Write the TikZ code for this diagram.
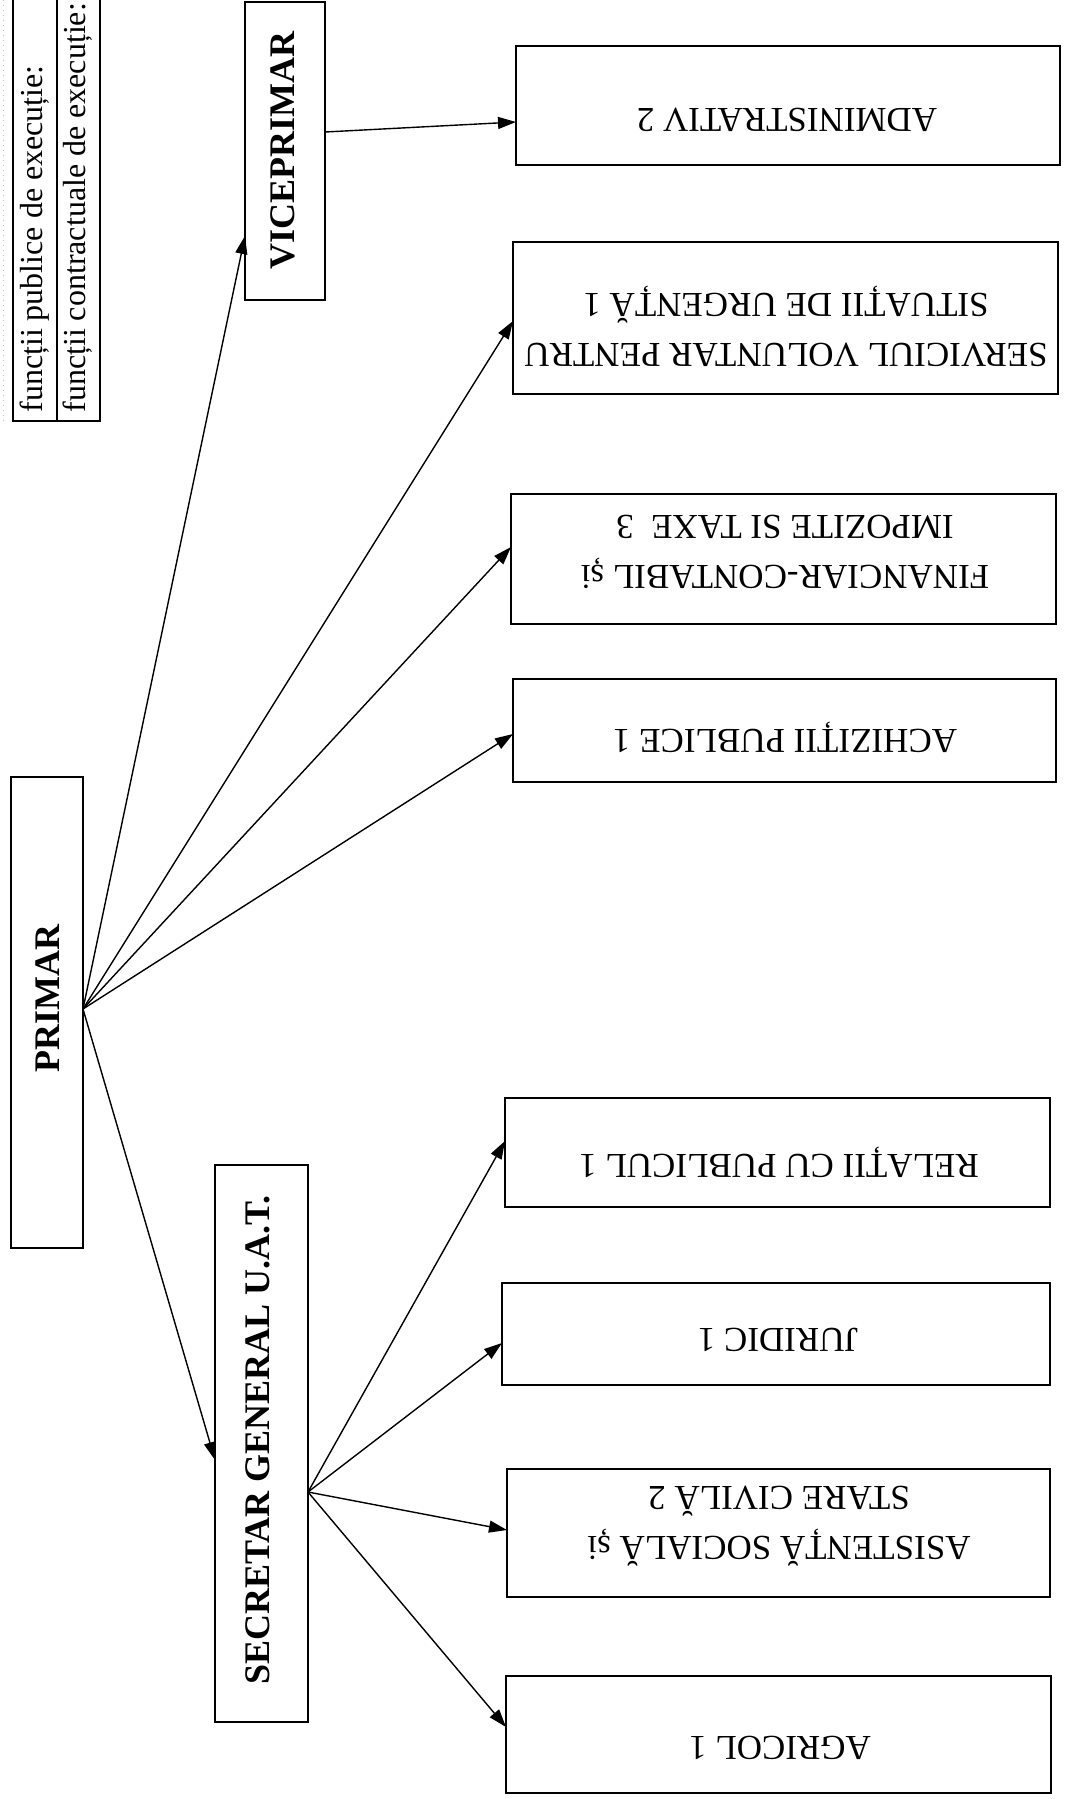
\documentclass[tikz,border=0pt]{standalone}
\usepackage{fontspec}
\setmainfont{Liberation Serif}
\usetikzlibrary{arrows.meta,fit}
\begin{document}
\begin{tikzpicture}[x=0.5pt,y=-0.5pt,
  box/.style={draw, line width=1.2pt, inner sep=0pt, outer sep=0pt},
  lbl/.style={font=\fontsize{17.5}{25}\selectfont, align=center, inner sep=0pt, rotate=180},
  blbl/.style={font=\fontsize{18}{22}\selectfont\bfseries, inner sep=0pt, rotate=90},
  arr/.style={line width=0.7pt, -{Triangle[length=9pt,width=6pt]}},
  tline/.style={line width=0.6pt},
  ttxt/.style={font=\fontsize{16}{18}\selectfont, inner sep=0pt, rotate=90, anchor=west}
]
\fill[white] (0,0) rectangle (1068,1799);
\useasboundingbox (0,0) rectangle (1068,1799);

% table (cut off at top)
\draw[tline] (13,0) -- (13,421) -- (100,421) -- (100,0);
\draw[tline] (57,0) -- (57,421);
\draw[gray!50, dotted, line width=0.5pt] (3,0) -- (3,421);
\node[ttxt] (t1) at (35,413) {funcții publice de execuție:};
\node[ttxt] (t2) at (78,413) {funcții contractuale de execuție:};

% boxes
\node[box, fit={(245,2) (325,300)}] (vice) {};
\node[box, fit={(516,46) (1060,165)}] (admin) {};
\node[box, fit={(513,242) (1058,394)}] (serv) {};
\node[box, fit={(511,494) (1056,624)}] (fin) {};
\node[box, fit={(513,679) (1056,782)}] (ach) {};
\node[box, fit={(11,777) (83,1248)}] (primar) {};
\node[box, fit={(215,1165) (308,1722)}] (sec) {};
\node[box, fit={(505,1098) (1050,1207)}] (rel) {};
\node[box, fit={(502,1283) (1050,1385)}] (jur) {};
\node[box, fit={(507,1469) (1050,1597)}] (asist) {};
\node[box, fit={(506,1676) (1051,1793)}] (agr) {};

% texts
\node[blbl] (viceT) at (283,150) {VICEPRIMAR};
\node[blbl] (primarT) at (48,998) {PRIMAR};
\node[blbl] (secT) at (258,1440) {SECRETAR GENERAL U.A.T.};
\node[lbl] (adminT) at (787,120) {ADMINISTRATIV 2};
\node[lbl] (servT) at (786,326) {SERVICIUL VOLUNTAR PENTRU\\SITUAȚII DE URGENȚĂ 1};
\node[lbl] (finT) at (785,552) {FINANCIAR-CONTABIL și\\IMPOZITE SI TAXE~~3};
\node[lbl] (achT) at (785,737) {ACHIZIȚII PUBLICE 1};
\node[lbl] (relT) at (779,1162) {RELAȚII CU PUBLICUL 1};
\node[lbl] (jurT) at (778,1340) {JURIDIC 1};
\node[lbl] (asistT) at (779,1526) {ASISTENȚĂ SOCIALĂ și\\STARE CIVILĂ 2};
\node[lbl] (agrT) at (780,1748) {AGRICOL 1};

% connectors
\coordinate (po) at ([yshift=1.75pt]primar.east);
\coordinate (so) at ([yshift=-24.25pt]sec.east);
\draw[arr] (po) -- ([yshift=-42.5pt]vice.west);
\draw[arr] (po) -- ([yshift=-1.5pt]serv.west);
\draw[arr] (po) -- ([yshift=6pt]fin.west);
\draw[arr] (po) -- ([yshift=-1.75pt]ach.west);
\draw[arr] (po) -- ([yshift=-8.25pt]sec.west);
\draw[arr] ([yshift=9.5pt]vice.east) -- ([yshift=-8.25pt]admin.west);
\draw[arr] (so) -- ([yshift=5.75pt]rel.west);
\draw[arr] (so) -- ([yshift=-4.5pt]jur.west);
\draw[arr] (so) -- ([yshift=1.5pt]asist.west);
\draw[arr] (so) -- ([yshift=3.75pt]agr.west);
\end{tikzpicture}
\end{document}
